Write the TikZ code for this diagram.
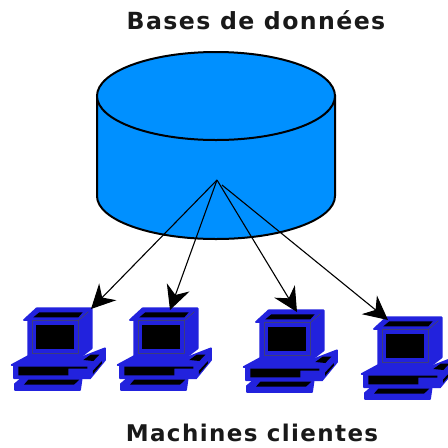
\documentclass[tikz,border=0pt]{standalone}
\usepackage{fontspec}
\setmainfont{DejaVu Sans}
\newfontfamily\labelfont[LetterSpace=6]{DejaVu Sans Bold}
\usetikzlibrary{arrows.meta}
\definecolor{dbblue}{HTML}{0090FF}
\definecolor{pcblue}{HTML}{2222DD}

\tikzset{
    title/.style={font=\labelfont\fontsize{23}{23}\selectfont, text=black!90, inner sep=0pt},
    dbline/.style={draw=black, line width=2pt, fill=dbblue},
    arrow/.style={-{Stealth[length=24pt,width=24pt,inset=8pt]}, line width=1.1pt, black},
    pcpart/.style={draw=pcblue, line width=1.8pt, fill=pcblue, line join=round},
    pchole/.style={fill=black},
    pics/computer/.style={code={
        \begin{scope}[scale=1/3]
        % Monitor
        \path[pcpart] (72,120) -- (110,85) -- (275,85) -- (275,205) -- (245,228) -- (85,228) -- (85,120) -- cycle;
        \path[pchole] (108,135) rectangle (222,208);
        \path[pchole] (100,112) -- (118,97) -- (248,97) -- (235,112) -- cycle;
        \draw[black!70, line width=.5pt] (97,122) rectangle (235,220) (235,122) -- (265,95);
        % Base
        \path[pcpart] (35,255) -- (85,228) -- (245,232) -- (315,205) -- (315,240) -- (270,295) -- (42,295) -- (42,255) -- cycle;
        \path[pchole] (55,260) -- (262,260) -- (262,266) -- (205,266) -- (205,286) -- (55,286) -- cycle;
        \path[pchole] (250,240) -- (272,224) -- (298,224) -- (280,243) -- cycle;
        \path[pchole] (279,272) -- (306,243) -- (306,250) -- (279,282) -- cycle;
        % Keyboard
        \path[pcpart] (45,312) -- (65,295) -- (245,295) -- (240,330) -- (45,330) -- cycle;
        \path[pchole] (72,314) -- (85,299) -- (238,299) -- (222,314) -- cycle;
        \end{scope}
    }}
}

\begin{document}
\begin{tikzpicture}[x=1pt, y=-1pt]
\useasboundingbox (0,0) rectangle (448,448);

% Labels
\node[title, font=\labelfont\fontsize{23.6}{24}\selectfont] (dbtitle) at (256,20) {Bases de données};
\node[title] (pctitle) at (252,433) {Machines clientes};

% Database
\path[dbline] (97,96) -- (97,196) arc[start angle=180, end angle=0, x radius=119, y radius=43] -- (335,96) -- cycle;
\path[dbline] (216,96) ellipse[x radius=119, y radius=44];

% Computers
\pic (pc1) at (0,280) {computer};
\pic (pc2) at (106,280) {computer};
\pic (pc3) at (232,282) {computer};
\pic (pc4) at (350,289) {computer};

% Arrow ends
\coordinate (hub) at (217,180);
\coordinate (hubr) at (222,185);
\coordinate (tip1) at (91,309);
\coordinate (tip2) at (170,310);
\coordinate (tip3) at (297,312);
\coordinate (tip4) at (388,320);

% Arrows
\draw[arrow] (hub) -- (tip1);
\draw[arrow] (hub) -- (tip2);
\draw[arrow] (hub) -- (tip3);
\draw[arrow] (hubr) -- (tip4);

\end{tikzpicture}
\end{document}
